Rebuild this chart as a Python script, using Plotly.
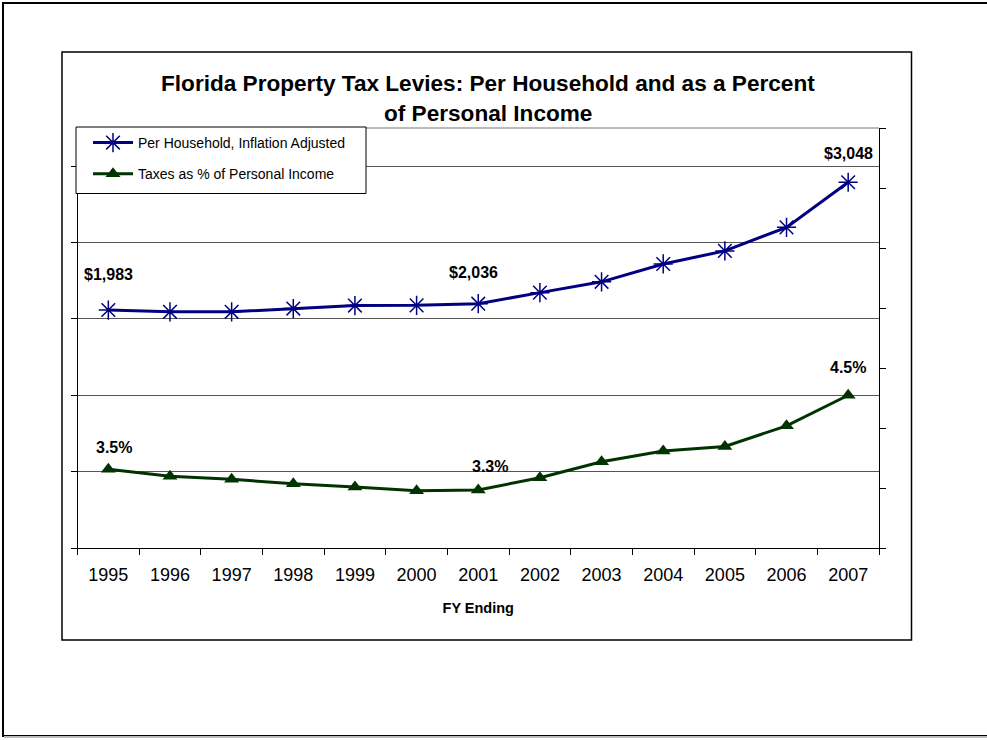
import plotly.graph_objects as go

# ---- data ----
years = ["1995", "1996", "1997", "1998", "1999", "2000", "2001",
         "2002", "2003", "2004", "2005", "2006", "2007"]
per_household = [1983, 1968, 1968, 1995, 2020, 2022, 2036,
                 2128, 2218, 2367, 2476, 2672, 3048]
pct_income = [3.53, 3.44, 3.40, 3.34, 3.30, 3.25, 3.26,
              3.42, 3.63, 3.77, 3.83, 4.10, 4.50]
per_household_labels = {"1995": "$1,983", "2001": "$2,036", "2007": "$3,048"}
pct_income_labels = {"1995": "3.5%", "2001": "3.3%", "2007": "4.5%"}

series_names = ["Per Household, Inflation Adjusted", "Taxes as % of Personal Income"]
title_lines = ["Florida Property Tax Levies: Per Household and as a Percent",
               "of Personal Income"]
x_title = "FY Ending"

W, H = 987, 740
FONT = "Arial, 'Liberation Sans', sans-serif"
BLUE = "#000080"
GREEN = "#003300"

def px(x):
    return x / W

def py(y):
    return 1 - y / H

# plot area in pixels
PL, PR, PT, PB = 77.5, 879, 128, 548

fig = go.Figure()

fig.add_trace(go.Scatter(
    x=years, y=per_household, name=series_names[0], yaxis="y2",
    mode="lines+markers", legendgroup="a",
    line=dict(color=BLUE, width=3),
    marker=dict(symbol="asterisk-open", size=16, color=BLUE,
                line=dict(color=BLUE, width=1.5)),
))
fig.add_trace(go.Scatter(
    x=years, y=pct_income, name=series_names[1], yaxis="y",
    mode="lines+markers", legendgroup="b",
    line=dict(color=GREEN, width=3),
    marker=dict(symbol="triangle-up", size=13, color=GREEN),
))

annotations = []
dollar_shift = {"1995": (0, 36), "2001": (-5, 31), "2007": (0, 29)}
pct_shift = {"1995": (6, 22), "2001": (12, 23), "2007": (0, 28)}
for yr, txt in per_household_labels.items():
    i = years.index(yr)
    dx, dy = dollar_shift[yr]
    annotations.append(dict(x=i, y=per_household[i], xref="x", yref="y2",
                            text=txt, showarrow=False, xshift=dx, yshift=dy,
                            font=dict(family=FONT, size=16, color="black", weight="bold")))
for yr, txt in pct_income_labels.items():
    i = years.index(yr)
    dx, dy = pct_shift[yr]
    annotations.append(dict(x=i, y=pct_income[i], xref="x", yref="y",
                            text=txt, showarrow=False, xshift=dx, yshift=dy,
                            font=dict(family=FONT, size=16, color="black", weight="bold")))

# title lines
for line, ypix in zip(title_lines, [84, 113]):
    annotations.append(dict(x=px(488), y=py(ypix), xref="paper", yref="paper",
                            text=line, showarrow=False, xanchor="center", yanchor="middle",
                            font=dict(family=FONT, size=22.6, color="black", weight="bold")))

shapes = [
    # outer frame
    dict(type="rect", xref="paper", yref="paper", x0=px(3), x1=px(1000), y0=py(736), y1=py(3),
         line=dict(color="black", width=2), layer="below"),
    dict(type="line", xref="paper", yref="paper", x0=px(4), x1=px(1000), y0=py(737), y1=py(737),
         line=dict(color="#bbbbbb", width=2), layer="below"),
    # chart area box
    dict(type="rect", xref="paper", yref="paper", x0=px(62), x1=px(911.5), y0=py(640), y1=py(52),
         line=dict(color="black", width=1.5), layer="below"),
    # top border of plot area
    dict(type="line", xref="paper", yref="paper", x0=px(PL), x1=px(PR), y0=py(PT), y1=py(PT),
         line=dict(color="#777777", width=1), layer="below"),
    # legend box
    dict(type="rect", xref="paper", yref="paper", x0=px(76), x1=px(366), y0=py(193.5), y1=py(127),
         line=dict(color="black", width=1), fillcolor="white", layer="above"),
]

fig.update_layout(
    width=W, height=H,
    margin=dict(l=0, r=0, t=0, b=0),
    paper_bgcolor="white", plot_bgcolor="white",
    font=dict(family=FONT, color="black"),
    showlegend=True,
    legend=dict(x=px(88), y=py(127), xanchor="left", yanchor="top",
                bgcolor="rgba(0,0,0,0)", borderwidth=0,
                tracegroupgap=10, itemwidth=40,
                font=dict(family=FONT, size=14, color="black")),
    xaxis=dict(domain=[px(PL), px(PR)], type="category", range=[-0.5, len(years) - 0.5],
               showline=True, linecolor="black", linewidth=1, mirror=False,
               ticks="outside", ticklen=6, tickcolor="black", tickson="boundaries",
               tickangle=0, ticklabelstandoff=10,
               showgrid=False, tickfont=dict(family=FONT, size=18, color="black"),
               title=dict(text=x_title, standoff=19,
                          font=dict(family=FONT, size=14.5, color="black", weight="bold"))),
    yaxis=dict(domain=[py(PB), py(PT)], range=[2.5, 8.0], tick0=2.5, dtick=1,
               showline=True, linecolor="black", linewidth=1,
               ticks="outside", ticklen=6, tickcolor="black",
               showticklabels=False, showgrid=True, gridcolor="#555555", gridwidth=1,
               zeroline=False),
    yaxis2=dict(domain=[py(PB), py(PT)], range=[0, 3500], dtick=500, overlaying="y",
                side="right", anchor="x",
                showline=True, linecolor="black", linewidth=1,
                ticks="outside", ticklen=6, tickcolor="black",
                showticklabels=False, showgrid=False, zeroline=False),
    annotations=annotations,
    shapes=shapes,
)

fig.write_html("out.html")
